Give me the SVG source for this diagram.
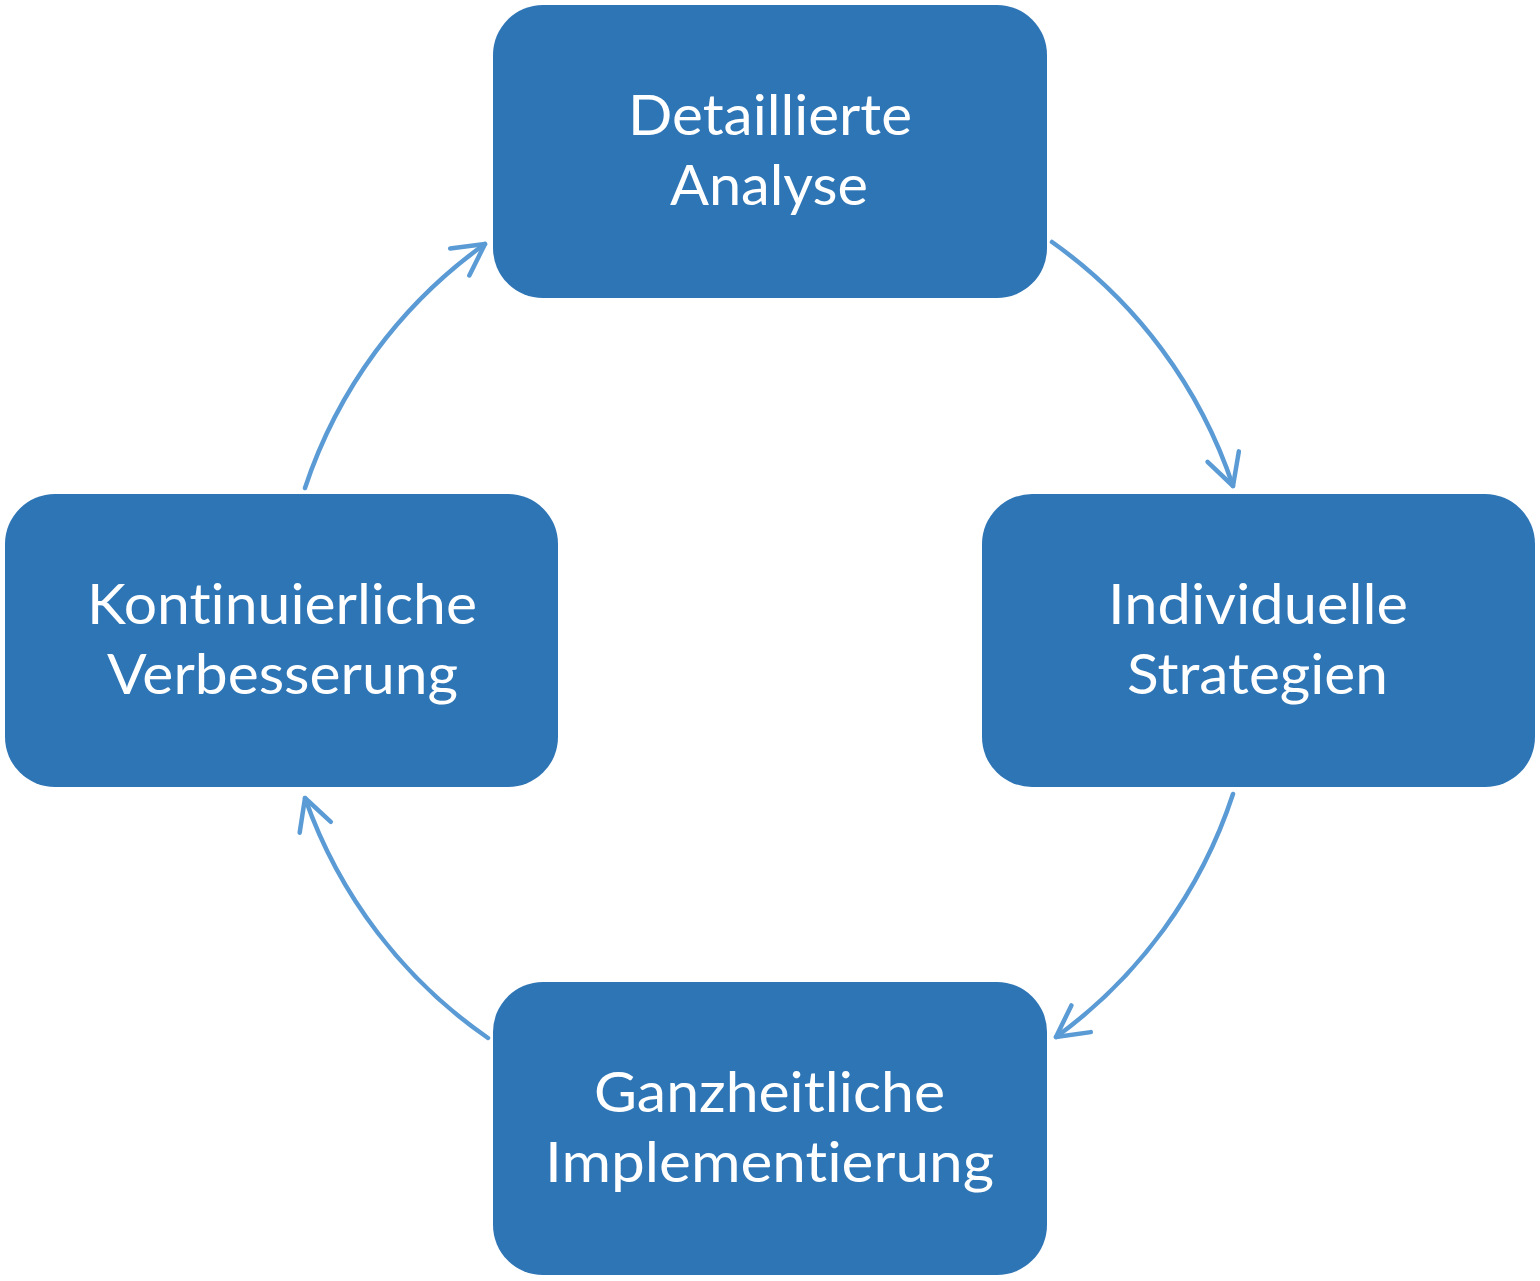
<svg xmlns="http://www.w3.org/2000/svg" width="1540" height="1281" viewBox="0 0 1540 1281">
<style>
.box{fill:#2E75B6;}
.lbl{font-family:Lato,"Open Sans","Liberation Sans",sans-serif;font-size:57px;fill:#FFFFFF;text-anchor:middle;font-variant-ligatures:none;font-feature-settings:"liga" 0,"clig" 0,"dlig" 0;}
.con{fill:none;stroke:#5B9BD5;stroke-width:4.5;stroke-linecap:round;}
</style>
<defs>
<marker id="arr" markerUnits="userSpaceOnUse" viewBox="-40 -25 50 50" refX="0" refY="0" markerWidth="50" markerHeight="50" orient="auto" overflow="visible">
<path d="M-31,-16.5 L0,0 L-31,16.5" fill="none" stroke="#5B9BD5" stroke-width="4.5" stroke-linecap="round" stroke-linejoin="round"/>
</marker>
</defs>
<rect width="1540" height="1281" fill="#FFFFFF"/>
<g id="connectors">
<path class="con" d="M1052,242 A488,488 0 0 1 1233,486" marker-end="url(#arr)"/>
<path class="con" d="M1233,794 A488,488 0 0 1 1056,1037" marker-end="url(#arr)"/>
<path class="con" d="M488,1038 A488,488 0 0 1 305,798" marker-end="url(#arr)"/>
<path class="con" d="M305,488 A488,488 0 0 1 485,244" marker-end="url(#arr)"/>
</g>
<g id="node-analyse">
<rect class="box" x="493" y="5" width="554" height="293" rx="50" ry="50"/>
<text class="lbl" x="770" y="135" textLength="284" lengthAdjust="spacingAndGlyphs">Detaillierte</text>
<text class="lbl" x="769" y="205" textLength="198" lengthAdjust="spacingAndGlyphs">Analyse</text>
</g>
<g id="node-strategien">
<rect class="box" x="982" y="494" width="553" height="293" rx="50" ry="50"/>
<text class="lbl" x="1258" y="624" textLength="300" lengthAdjust="spacingAndGlyphs">Individuelle</text>
<text class="lbl" x="1257.5" y="694" textLength="261" lengthAdjust="spacingAndGlyphs">Strategien</text>
</g>
<g id="node-implementierung">
<rect class="box" x="493" y="982" width="554" height="293" rx="50" ry="50"/>
<text class="lbl" x="769.5" y="1112" textLength="351" lengthAdjust="spacingAndGlyphs">Ganzheitliche</text>
<text class="lbl" x="769.5" y="1182" textLength="449" lengthAdjust="spacingAndGlyphs">Implementierung</text>
</g>
<g id="node-verbesserung">
<rect class="box" x="5" y="494" width="553" height="293" rx="50" ry="50"/>
<text class="lbl" x="282" y="624" textLength="390" lengthAdjust="spacingAndGlyphs">Kontinuierliche</text>
<text class="lbl" x="282.5" y="694" textLength="351" lengthAdjust="spacingAndGlyphs">Verbesserung</text>
</g>
</svg>
